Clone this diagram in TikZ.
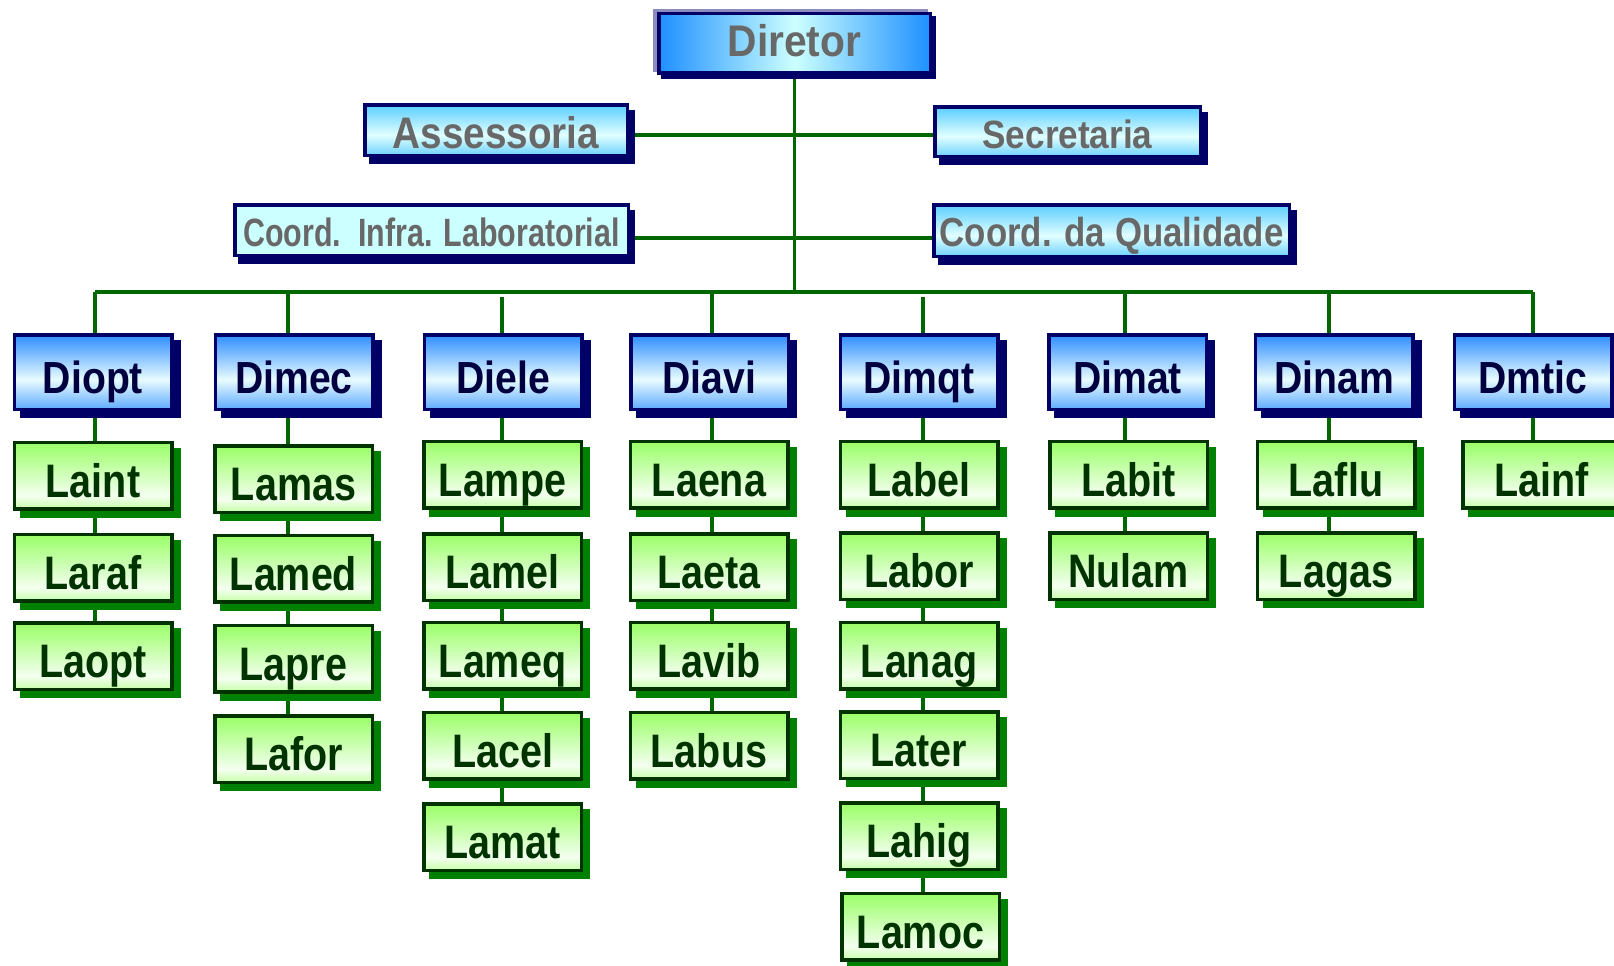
\documentclass[tikz,border=0pt]{standalone}
\usepackage{fontspec}
\usetikzlibrary{shadows}
\pgfdeclarelayer{background}
\pgfsetlayers{background,main}

% Condensed bold faces for the different box kinds
\newfontfamily\fDir{Liberation Sans}[FakeStretch=0.92]
\newfontfamily\fAss{Liberation Sans}[FakeStretch=0.875]
\newfontfamily\fSec{Liberation Sans}[FakeStretch=0.89]
\newfontfamily\fCq{Liberation Sans}[FakeStretch=0.86]
\newfontfamily\fCi{Liberation Sans}[FakeStretch=0.77]
\newfontfamily\fDiv{Liberation Sans}[FakeStretch=0.87]
\newfontfamily\fLab{Liberation Sans}[FakeStretch=0.84]

\definecolor{navy}{RGB}{0,0,102}
\definecolor{lav}{RGB}{140,140,190}
\definecolor{dirEdge}{RGB}{30,144,255}
\definecolor{dirMid}{RGB}{204,255,255}
\definecolor{staffTop}{RGB}{90,205,255}
\definecolor{staffMid}{RGB}{225,255,255}
\definecolor{staffBot}{RGB}{110,210,255}
\definecolor{coordFill}{RGB}{204,255,255}
\definecolor{divTop}{RGB}{45,140,255}
\definecolor{divMid}{RGB}{232,252,255}
\definecolor{divBot}{RGB}{95,170,255}
\definecolor{labTop}{RGB}{153,255,102}
\definecolor{labMid}{RGB}{244,255,240}
\definecolor{labBot}{RGB}{200,255,170}
\definecolor{labEdge}{RGB}{0,51,0}
\definecolor{labShadow}{RGB}{0,128,0}
\definecolor{labText}{RGB}{0,51,0}
\definecolor{divText}{RGB}{0,0,64}
\definecolor{grayText}{RGB}{104,104,104}
\definecolor{wire}{RGB}{0,102,0}

% vertical shadings: 25bp = bottom edge, 75bp = top edge
\pgfdeclareverticalshading{staffshade}{100bp}{color(0bp)=(staffBot); color(25bp)=(staffBot); color(45bp)=(staffMid); color(75bp)=(staffTop); color(100bp)=(staffTop)}
\pgfdeclareverticalshading{divshade}{100bp}{color(0bp)=(divBot); color(25bp)=(divBot); color(45bp)=(divMid); color(75bp)=(divTop); color(100bp)=(divTop)}
\pgfdeclareverticalshading{labshade}{100bp}{color(0bp)=(labBot); color(25bp)=(labBot); color(35bp)=(labMid); color(75bp)=(labTop); color(100bp)=(labTop)}

\tikzset{
  boxbase/.style={rectangle, inner sep=0pt, line width=3.5pt, text depth=0pt},
  navyshadow/.style={general shadow={shadow xshift=#1, shadow yshift=-7pt, fill=navy, draw=navy, line width=3.5pt}},
  dirbox/.style={boxbase, draw=navy, left color=dirEdge, right color=dirEdge, middle color=dirMid,
    minimum width=271.5pt, minimum height=59.5pt, text=grayText,
    font=\fDir\bfseries\fontsize{44.3}{48}\selectfont, text height=26.3pt,
    general shadow={shadow xshift=-4pt, shadow yshift=3pt, fill=lav, draw=lav, line width=3.5pt},
    general shadow={shadow xshift=4pt, shadow yshift=-4pt, fill=navy, draw=navy, line width=3.5pt}},
  staffbox/.style={boxbase, draw=navy, shading=staffshade, text=grayText, navyshadow=6pt},
  coordbox/.style={boxbase, draw=navy, fill=coordFill, text=grayText, navyshadow=5pt},
  assfont/.style={font=\fAss\bfseries\fontsize{44.2}{48}\selectfont, text height=36.7pt},
  secfont/.style={font=\fSec\bfseries\fontsize{39.5}{44}\selectfont, text height=33.7pt},
  cqfont/.style={font=\fCq\bfseries\fontsize{40.5}{44}\selectfont, text height=32.4pt},
  cifont/.style={font=\fCi\bfseries\fontsize{39.5}{44}\selectfont, text height=33.3pt},
  divbox/.style={boxbase, draw=navy, shading=divshade, text=divText,
    minimum width=157.5pt, minimum height=74.5pt,
    font=\fDiv\bfseries\fontsize{45}{50}\selectfont, text height=43.3pt, navyshadow=7pt},
  labbox/.style={boxbase, draw=labEdge, shading=labshade, text=labText,
    minimum width=157.5pt, minimum height=66.5pt,
    font=\fLab\bfseries\fontsize{47}{52}\selectfont, text height=43.5pt,
    general shadow={shadow xshift=7pt, shadow yshift=-7pt, fill=labShadow, draw=labShadow, line width=3.5pt}},
  wireline/.style={draw=wire, line width=3.5pt}
}

\begin{document}
\begin{tikzpicture}[x=1pt, y=-1pt]
\useasboundingbox (0,0) rectangle (1614,966);

% top of the chart
\node[dirbox] (Diretor) at (794.5,43.5) {Diretor};
\node[staffbox, assfont, minimum width=262.5pt, minimum height=50.5pt] (Assessoria) at (496,130) {Assessoria};
\node[staffbox, secfont, minimum width=265.5pt, minimum height=49.5pt] (Secretaria) at (1067.5,131.5) {Secretaria};
\node[coordbox, cifont, minimum width=393.5pt, minimum height=50.5pt] (CoordInfra) at (431.5,230) {Coord.~~Infra. Laboratorial};
\node[staffbox, cqfont, minimum width=355.5pt, minimum height=51.5pt] (CoordQual) at (1111.5,230.5) {Coord. da Qualidade};

% divisions
\node[divbox] (Diopt) at (93,372) {Diopt};
\node[divbox] (Dimec) at (294,372) {Dimec};
\node[divbox] (Diele) at (503,372) {Diele};
\node[divbox] (Diavi) at (709.5,372) {Diavi};
\node[divbox] (Dimqt) at (919,372) {Dimqt};
\node[divbox] (Dimat) at (1127.5,372) {Dimat};
\node[divbox] (Dinam) at (1334,372) {Dinam};
\node[divbox] (Dmtic) at (1533,372) {Dmtic};

% laboratories
\node[labbox] (Laint) at (93,475.5) {Laint};
\node[labbox] (Laraf) at (93,567.5) {Laraf};
\node[labbox] (Laopt) at (93,656) {Laopt};

\node[labbox] (Lamas) at (293.5,479) {Lamas};
\node[labbox] (Lamed) at (293.5,568.5) {Lamed};
\node[labbox] (Lapre) at (293.5,658.5) {Lapre};
\node[labbox] (Lafor) at (293.5,749) {Lafor};

\node[labbox] (Lampe) at (502.5,474.5) {Lampe};
\node[labbox] (Lamel) at (502.5,567) {Lamel};
\node[labbox] (Lameq) at (502.5,655.5) {Lameq};
\node[labbox] (Lacel) at (502.5,745.5) {Lacel};
\node[labbox] (Lamat) at (502.5,837) {Lamat};

\node[labbox] (Laena) at (709,474.5) {Laena};
\node[labbox] (Laeta) at (709,567) {Laeta};
\node[labbox] (Lavib) at (709,655.5) {Lavib};
\node[labbox] (Labus) at (709,745.5) {Labus};

\node[labbox] (Label) at (919,474.5) {Label};
\node[labbox] (Labor) at (919,566) {Labor};
\node[labbox] (Lanag) at (919,655.5) {Lanag};
\node[labbox] (Later) at (919,745) {Later};
\node[labbox] (Lahig) at (919,836) {Lahig};
\node[labbox] (Lamoc) at (920.5,926.5) {Lamoc};

\node[labbox] (Labit) at (1128.5,474.5) {Labit};
\node[labbox] (Nulam) at (1128.5,566) {Nulam};

\node[labbox] (Laflu) at (1336,474.5) {Laflu};
\node[labbox] (Lagas) at (1336,566) {Lagas};

\node[labbox] (Lainf) at (1541.5,474.5) {Lainf};

% connectors, behind the boxes
\begin{pgfonlayer}{background}
  \coordinate (busL) at (95,292);
  \coordinate (busR) at (1533,292);
  \coordinate (busM) at (794.5,292);
  \coordinate (jA) at (794.5,135);
  \coordinate (jB) at (794.5,238);
  \draw[wireline] (Diretor.south) -- (busM);
  \draw[wireline] (busL) -- (busR);
  \draw[wireline] (Assessoria.east |- jA) -- (Secretaria.west |- jA);
  \draw[wireline] (CoordInfra.east |- jB) -- (CoordQual.west |- jB);
  \foreach \cx/\dv/\lst/\ty in {95/Diopt/Laopt/292, 288/Dimec/Lafor/292,
      502/Diele/Lamat/297, 712/Diavi/Labus/292, 923/Dimqt/Lamoc/297,
      1125/Dimat/Nulam/292, 1329/Dinam/Lagas/292, 1533/Dmtic/Lainf/292}{
    \coordinate (top-\dv) at (\cx,\ty);
    \draw[wireline] (top-\dv) -- (top-\dv |- \dv.north);
    \draw[wireline] (top-\dv |- \dv.south) -- (top-\dv |- \lst.north);
  }
\end{pgfonlayer}
\end{tikzpicture}
\end{document}
